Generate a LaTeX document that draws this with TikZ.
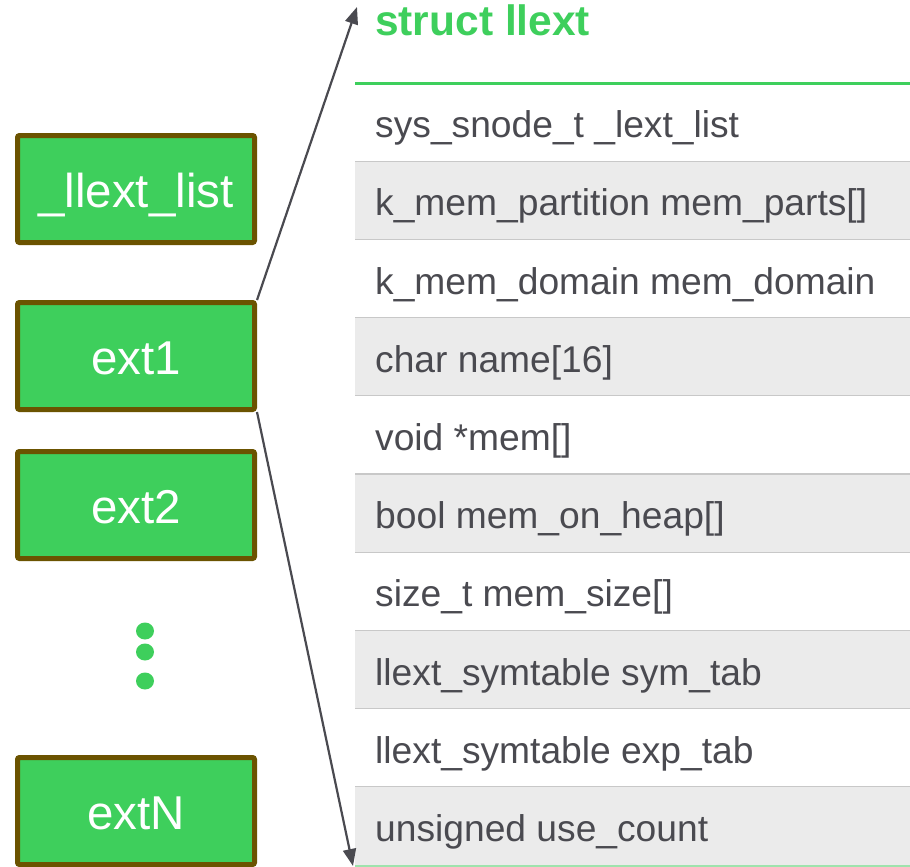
\documentclass[tikz,border=0pt]{standalone}
\usepackage{fontspec}
\setmainfont{Liberation Sans}
\usetikzlibrary{arrows.meta}
\definecolor{extgreen}{HTML}{3ECF5C}
\definecolor{extborder}{HTML}{6B5300}
\definecolor{rowgrey}{HTML}{EBEBEB}
\definecolor{rowline}{HTML}{C8C8C8}
\definecolor{textgrey}{HTML}{4A4A50}
\definecolor{lightgreen}{HTML}{9EE3AC}
\tikzset{
  extbox/.style={draw=extborder, line width=5pt, fill=extgreen, rounded corners=2pt,
    minimum width=237pt, minimum height=107pt, inner sep=0pt},
  extlabel/.style={anchor=base, text=white, font=\fontsize{47.5}{50}\selectfont, inner sep=0pt},
  field/.style={anchor=base west, text=textgrey, font=\fontsize{37.2}{40}\selectfont, inner sep=0pt},
  title/.style={anchor=base west, text=extgreen, font=\bfseries\fontsize{42.5}{46}\selectfont, inner sep=0pt},
  ptr/.style={draw=textgrey, line width=2.2pt, -{Triangle[length=17pt,width=13pt]}},
  dot/.style={fill=extgreen, draw=none}
}
\begin{document}
\begin{tikzpicture}[x=1pt,y=-1pt]
  \useasboundingbox (0,0) rectangle (910,867);

  % table rows of struct llext
  \def\rowtop{83}
  \def\rowh{78.2}
  \foreach \i in {1,...,10} {
    \pgfmathsetmacro{\ya}{\rowtop+(\i-1)*\rowh}
    \pgfmathsetmacro{\yb}{\rowtop+\i*\rowh}
    \ifodd\i\else
      \fill[rowgrey] (355,\ya) rectangle (910,\yb);
    \fi
    \ifnum\i>1
      \draw[rowline, line width=1.2pt] (355,\ya) -- (910,\ya);
    \fi
  }
  \draw[extgreen, line width=3pt] (355,83) -- (910,83);
  \draw[lightgreen, line width=2pt] (355,866) -- (910,866);

  \node[title] (ttl) at (375,36) {struct llext};

  \foreach \t [count=\i] in {sys\_snode\_t \_lext\_list,
      k\_mem\_partition mem\_parts[],
      k\_mem\_domain mem\_domain,
      char name[16],
      void *mem[],
      bool mem\_on\_heap[],
      size\_t mem\_size[],
      llext\_symtable sym\_tab,
      llext\_symtable exp\_tab,
      unsigned use\_count} {
    \pgfmathsetmacro{\yc}{\rowtop+(\i-0.5)*\rowh+15.5}
    \node[field] (f\i) at (375,\yc) {\t};
  }

  % list of extensions
  \node[extbox] (head) at (136,189) {};
  \node[extbox] (ext1) at (136,356) {};
  \node[extbox] (ext2) at (136,505) {};
  \node[extbox] (extN) at (136,811) {};
  \node[extlabel] (lhead) at (136,207) {\_llext\_list};
  \node[extlabel] (l1) at (136,374) {ext1};
  \node[extlabel] (l2) at (136,523) {ext2};
  \node[extlabel] (lN) at (136,829) {extN};

  \fill[dot] (145,631) ellipse (9pt and 8.5pt);
  \fill[dot] (145,652) ellipse (9pt and 8.5pt);
  \fill[dot] (145,681) ellipse (9pt and 8.5pt);

  % pointers spanning the structure
  \coordinate (top) at (357,7);
  \coordinate (bot) at (353,866);
  \draw[ptr] (ext1.north east) -- (top);
  \draw[ptr] (ext1.south east) -- (bot);
\end{tikzpicture}
\end{document}
